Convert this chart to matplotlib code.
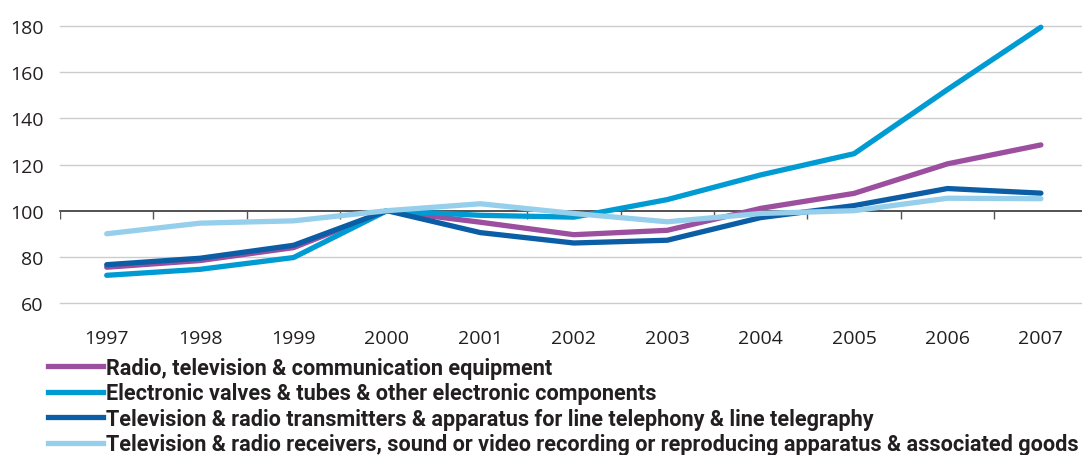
import matplotlib
matplotlib.use("Agg")
import matplotlib.pyplot as plt
import numpy as np

years = ["1997", "1998", "1999", "2000", "2001", "2002",
         "2003", "2004", "2005", "2006", "2007"]
radio_tv_comm = [75.5, 78.4, 84.0, 100.0, 95.0, 89.6, 91.5, 101.0, 107.5, 120.3, 128.5]
valves_tubes = [72.0, 74.6, 79.7, 100.0, 98.0, 97.2, 104.8, 115.5, 124.7, 152.5, 179.5]
transmitters = [76.6, 79.4, 85.0, 100.0, 90.5, 86.0, 87.2, 97.0, 102.2, 109.6, 107.6]
receivers = [90.0, 94.6, 95.6, 100.0, 103.0, 98.8, 95.2, 98.8, 100.0, 105.4, 105.2]

labels = [
    "Radio, television & communication equipment",
    "Electronic valves & tubes & other electronic components",
    "Television & radio transmitters & apparatus for line telephony & line telegraphy",
    "Television & radio receivers, sound or video recording or reproducing apparatus & associated goods",
]
colors = ["#9b4f9e", "#009bd3", "#0b5ea6", "#95cfeb"]
y_ticks = [60, 80, 100, 120, 140, 160, 180]

text_color = "#231f20"
font = ["Open Sans", "DejaVu Sans"]
legend_font = ["Roboto", "DejaVu Sans"]

fig = plt.figure(figsize=(10.82, 4.56), dpi=100)
ax = fig.add_axes([60 / 1082, 152 / 456, 1022 / 1082, 300 / 456])

x = np.arange(len(years))
series = [radio_tv_comm, valves_tubes, transmitters, receivers]
for vals, c in zip(series, colors):
    ax.plot(x, vals, color=c, linewidth=3.8,
            solid_capstyle="round", solid_joinstyle="round", zorder=3)
handles = [plt.Line2D([], [], color=c, linewidth=3.8) for c in colors]

ax.set_xlim(-0.5, 10.44)
ax.set_ylim(60, 190)

for yv in y_ticks:
    if yv == 100:
        ax.axhline(yv, color="#333333", linewidth=1.2, zorder=2, clip_on=False)
    else:
        ax.axhline(yv, color="#cccccc", linewidth=1.0, zorder=1, clip_on=False)

# category boundary ticks hanging off the 100 line
bounds = np.arange(len(years) + 1) - 0.5
ax.vlines(bounds, 100 - 8 / 2.31, 100, color="#555555", linewidth=1.0, zorder=2)

ax.set_yticks(y_ticks)
ax.set_yticklabels([str(v) for v in y_ticks], family=font, fontsize=14, color=text_color)
ax.set_xticks(x)
ax.set_xticklabels(years, family=font, fontsize=14, color=text_color)
ax.tick_params(axis="y", length=0, pad=12)
ax.tick_params(axis="x", length=0, pad=19)
for s in ax.spines.values():
    s.set_visible(False)

# the original uses a condensed bold face; shrink so the longest label fits the width
size = 13.0
fig.canvas.draw()
probe = fig.text(0, 0, labels[-1], family=legend_font, weight="bold", fontsize=size)
w = probe.get_window_extent(fig.canvas.get_renderer()).width
probe.remove()
size = size * 970 / w

leg = fig.legend(handles, labels, loc="upper left", bbox_to_anchor=(48 / 1082, 1 - 358 / 456),
                 frameon=False, handlelength=55 / (size * 100 / 72), handletextpad=0.15,
                 labelspacing=25 / (size * 100 / 72) - 1.0,
                 borderaxespad=0, borderpad=0,
                 prop={"family": legend_font, "weight": "bold", "size": size})
for t in leg.get_texts():
    t.set_color(text_color)

fig.savefig("out.png", dpi=100)
